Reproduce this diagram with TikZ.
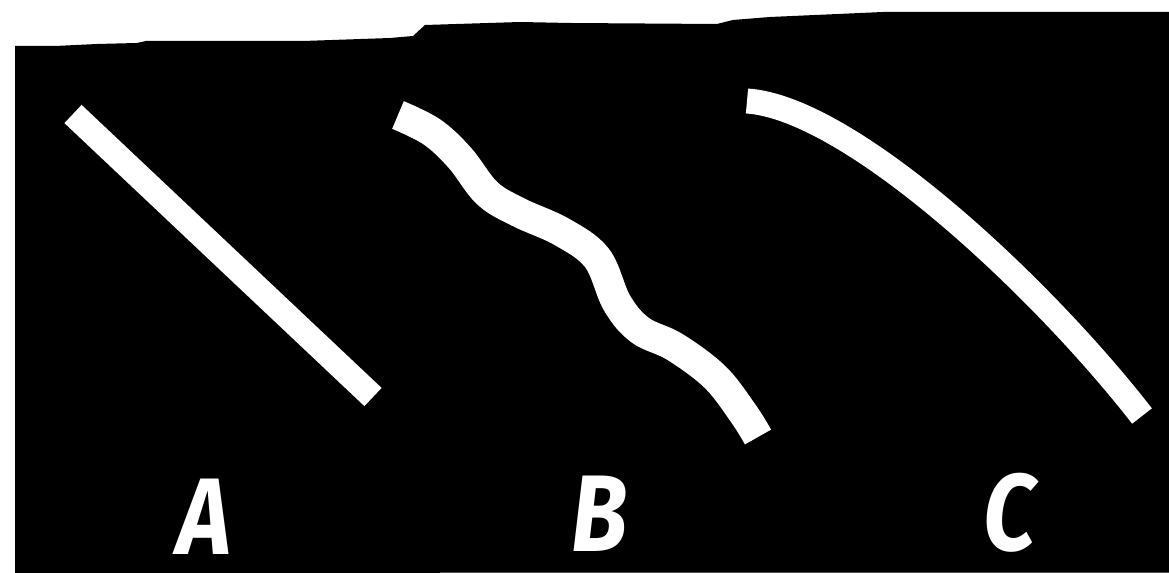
\documentclass[tikz,border=0pt]{standalone}
\usepackage{fontspec}
\newfontfamily\labelfont{Fira Sans}
\begin{document}
\begin{tikzpicture}[x=0.02cm,y=-0.02cm,
  stroke/.style={draw=white,line width=0.5cm,line cap=butt,line join=round},
  wavy/.style={draw=white,line width=0.6cm,line cap=butt,line join=round},
  lbl/.style={text=white,font=\labelfont\bfseries\itshape\fontsize{62}{66}\selectfont,inner sep=0pt,xscale=0.85}]
\useasboundingbox (0,0) rectangle (1169,573);
\fill[white] (0,0) rectangle (1169,573);
% black board with irregular top edge
\fill[black] (15,573) -- (15,46) -- (55,46) -- (97,44) -- (137,43) -- (146,41) -- (303,41)
  -- (390,38) -- (413,36) -- (425,25) -- (520,22) -- (570,23) -- (717,24) -- (733,20)
  -- (770,17) -- (883,12) -- (1169,12) -- (1169,573) -- cycle;
\fill[black!70] (440,571.5) rectangle (1169,573);
% A: straight stroke
\coordinate (a1) at (73,114);
\coordinate (a2) at (373,397);
\draw[stroke] (a1) -- (a2);
% B: wavy stroke
\draw[wavy] plot[smooth,tension=0.6] coordinates {(398,115) (432,132) (460,158) (487,193) (518,212) (562,232) (597,258) (617,303) (640,330) (675,347) (715,377) (743,413) (758,437)};
% C: curved stroke
\coordinate (c1) at (747,101);
\coordinate (c2) at (1142,416);
\draw[stroke] (c1) .. controls (850,108) and (1040,285) .. (c2);
% labels
\node[lbl] (A) at (204,517) {A};
\node[lbl] (B) at (600,514) {B};
\node[lbl] (C) at (1010,513) {C};
\end{tikzpicture}
\end{document}
